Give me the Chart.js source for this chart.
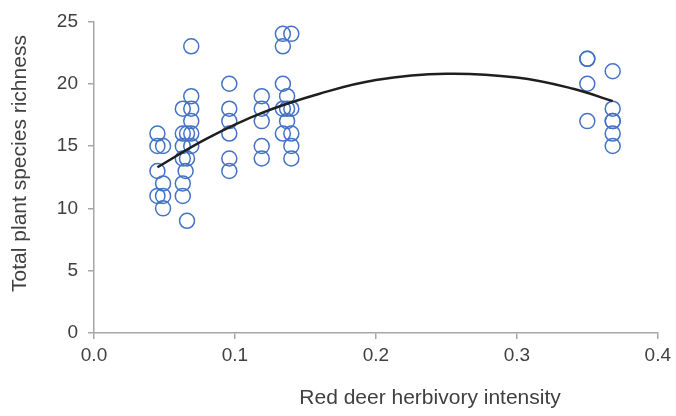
<!DOCTYPE html>
<html>
<head>
<meta charset="utf-8">
<script src="https://cdn.jsdelivr.net/npm/chart.js@4.4.1/dist/chart.umd.min.js"></script>
<style>
  html, body { margin: 0; padding: 0; background: #fff; }
  #wrap { width: 676px; height: 416px; }
</style>
</head>
<body>
<div id="wrap"><canvas id="chart" width="676" height="416"></canvas></div>
<script>
// herbivory intensity (x) and plant species richness (y) for each plot
var herbivory = [
  0.045, 0.045, 0.045, 0.045,
  0.049, 0.049, 0.049, 0.049,
  0.069, 0.069, 0.063, 0.069, 0.069, 0.063, 0.066, 0.069, 0.063, 0.069, 0.063, 0.066, 0.065, 0.063, 0.063, 0.066,
  0.096, 0.096, 0.096, 0.096, 0.096, 0.096,
  0.119, 0.119, 0.119, 0.119, 0.119,
  0.134, 0.140, 0.134, 0.134, 0.137, 0.134, 0.137, 0.140, 0.137, 0.134, 0.140, 0.140, 0.140,
  0.350, 0.350, 0.350, 0.350,
  0.368, 0.368, 0.368, 0.368, 0.368, 0.368
];
var richness = [
  16, 15, 13, 11,
  15, 12, 11, 10,
  23, 19, 18, 18, 17, 16, 16, 16, 15, 15, 14, 14, 13, 12, 11, 9,
  20, 18, 17, 16, 14, 13,
  19, 18, 17, 15, 14,
  24, 24, 23, 20, 19, 18, 18, 18, 17, 16, 16, 15, 14,
  22, 22, 20, 17,
  21, 18, 17, 17, 16, 15
];

// fitted curve
var trendX = [0.045, 0.08, 0.12, 0.16, 0.20, 0.25, 0.30, 0.34, 0.368];
var trendY = [13.3, 15.6, 17.7, 19.2, 20.3, 20.8, 20.5, 19.6, 18.6];

var xTicks = [0.0, 0.1, 0.2, 0.3, 0.4];
var yTicks = [0, 5, 10, 15, 20, 25];

var xTitle = 'Red deer herbivory intensity';
var yTitle = 'Total plant species richness';

var textColor = '#404040';
var axisColor = '#a6a6a6';
var fontFamily = '"Liberation Sans", Arial, sans-serif';

var points = herbivory.map(function (x, i) { return {x: x, y: richness[i]}; });
var trend = trendX.map(function (x, i) { return {x: x, y: trendY[i]}; });

// axis titles drawn by hand, both sit off-centre in the original
var axisTitles = {
  id: 'axisTitles',
  afterDraw: function (chart) {
    var ctx = chart.ctx;
    var area = chart.chartArea;
    ctx.save();
    ctx.font = '21px ' + fontFamily;
    ctx.fillStyle = textColor;
    ctx.textAlign = 'center';
    ctx.textBaseline = 'middle';
    ctx.fillText(xTitle, area.left + (area.right - area.left) * 0.596, 398);
    ctx.translate(20, area.top + (area.bottom - area.top) * 0.456);
    ctx.rotate(-Math.PI / 2);
    ctx.fillText(yTitle, 0, 0);
    ctx.restore();
  }
};

var ctx = document.getElementById('chart').getContext('2d');
var myChart = new Chart(ctx, {
  type: 'scatter',
  data: {
    datasets: [{
      label: 'trend',
      data: trend,
      showLine: true,
      borderColor: '#1f1f1f',
      borderWidth: 2.5,
      pointRadius: 0,
      tension: 0.4,
      fill: false
    }, {
      label: 'plots',
      data: points,
      pointRadius: 7.5,
      pointBorderWidth: 1.5,
      pointBackgroundColor: 'rgba(0,0,0,0)',
      pointBorderColor: '#4472c4'
    }]
  },
  options: {
    responsive: false,
    animation: false,
    layout: {
      padding: {top: 18, right: 18, bottom: 0, left: 0}
    },
    scales: {
      x: {
        type: 'linear',
        min: 0,
        max: 0.4,
        afterBuildTicks: function (scale) {
          scale.ticks = xTicks.map(function (v) { return {value: v}; });
        },
        afterFit: function (scale) { scale.height = 83; },
        border: {color: axisColor, width: 1.5},
        grid: {display: true, drawOnChartArea: false, drawTicks: true, tickLength: 6, color: axisColor, lineWidth: 1.5},
        ticks: {
          color: textColor,
          font: {family: fontFamily, size: 19},
          padding: 5,
          maxRotation: 0,
          callback: function (v) { return Number(v).toFixed(1); }
        },
        title: {display: false}
      },
      y: {
        type: 'linear',
        min: 0,
        max: 25,
        afterBuildTicks: function (scale) {
          scale.ticks = yTicks.map(function (v) { return {value: v}; });
        },
        afterFit: function (scale) { scale.width = 94; },
        border: {color: axisColor, width: 1.5},
        grid: {display: true, drawOnChartArea: false, drawTicks: true, tickLength: 6, color: axisColor, lineWidth: 1.5},
        ticks: {
          color: textColor,
          font: {family: fontFamily, size: 19},
          padding: 10
        },
        title: {display: false}
      }
    },
    plugins: {
      legend: {display: false},
      tooltip: {enabled: false}
    }
  },
  plugins: [axisTitles]
});
</script>
</body>
</html>
